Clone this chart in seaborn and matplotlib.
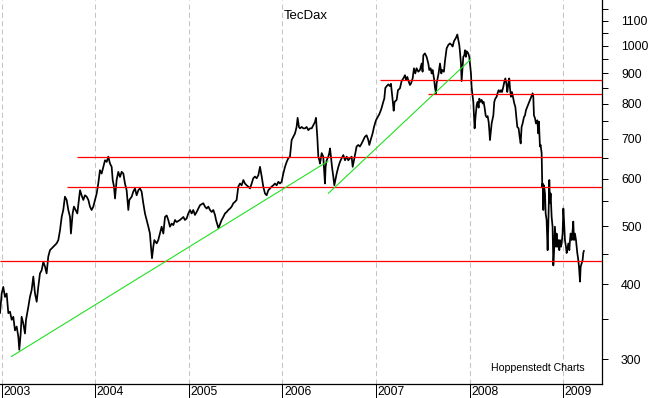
import matplotlib
matplotlib.use("Agg")
import matplotlib.pyplot as plt
import matplotlib.transforms as mtransforms
from matplotlib.ticker import FixedLocator, NullFormatter, FixedFormatter
import pandas as pd
import seaborn as sns

# ---- data (decimal years, index points) ----
dates = [
    2002.982, 2003.000, 2003.017, 2003.035, 2003.053, 2003.071, 2003.089, 2003.107, 2003.124, 2003.142,
    2003.160, 2003.178, 2003.188, 2003.203, 2003.213, 2003.231, 2003.249, 2003.260, 2003.285, 2003.302,
    2003.320, 2003.338, 2003.356, 2003.374, 2003.391, 2003.409, 2003.427, 2003.445, 2003.463, 2003.480,
    2003.498, 2003.516, 2003.552, 2003.587, 2003.605, 2003.623, 2003.641, 2003.658, 2003.676, 2003.694,
    2003.712, 2003.730, 2003.740, 2003.758, 2003.772, 2003.790, 2003.808, 2003.822, 2003.837, 2003.854,
    2003.872, 2003.890, 2003.908, 2003.926, 2003.943, 2003.961, 2003.979, 2003.997, 2004.015, 2004.032,
    2004.050, 2004.068, 2004.086, 2004.104, 2004.122, 2004.139, 2004.157, 2004.175, 2004.186, 2004.200,
    2004.211, 2004.228, 2004.246, 2004.264, 2004.282, 2004.300, 2004.317, 2004.335, 2004.353, 2004.364,
    2004.389, 2004.406, 2004.424, 2004.442, 2004.460, 2004.478, 2004.495, 2004.513, 2004.531, 2004.549,
    2004.567, 2004.584, 2004.595, 2004.606, 2004.620, 2004.631, 2004.656, 2004.673, 2004.691, 2004.709,
    2004.727, 2004.745, 2004.763, 2004.780, 2004.798, 2004.816, 2004.834, 2004.852, 2004.869, 2004.905,
    2004.941, 2004.958, 2004.976, 2004.994, 2005.012, 2005.030, 2005.047, 2005.065, 2005.083, 2005.101,
    2005.119, 2005.154, 2005.172, 2005.190, 2005.208, 2005.226, 2005.243, 2005.261, 2005.279, 2005.290,
    2005.316, 2005.350, 2005.368, 2005.386, 2005.404, 2005.421, 2005.439, 2005.457, 2005.475, 2005.493,
    2005.510, 2005.528, 2005.546, 2005.564, 2005.582, 2005.599, 2005.617, 2005.635, 2005.653, 2005.671,
    2005.688, 2005.706, 2005.724, 2005.742, 2005.760, 2005.778, 2005.795, 2005.813, 2005.831, 2005.849,
    2005.867, 2005.884, 2005.902, 2005.920, 2005.938, 2005.956, 2005.973, 2005.991, 2006.009, 2006.027,
    2006.045, 2006.062, 2006.080, 2006.087, 2006.098, 2006.116, 2006.134, 2006.151, 2006.162, 2006.176,
    2006.187, 2006.205, 2006.223, 2006.240, 2006.258, 2006.276, 2006.294, 2006.312, 2006.329, 2006.347,
    2006.358, 2006.365, 2006.372, 2006.383, 2006.394, 2006.401, 2006.419, 2006.436, 2006.454, 2006.461,
    2006.472, 2006.490, 2006.500, 2006.508, 2006.518, 2006.529, 2006.543, 2006.554, 2006.565, 2006.579,
    2006.597, 2006.614, 2006.632, 2006.650, 2006.668, 2006.686, 2006.703, 2006.721, 2006.739, 2006.750,
    2006.764, 2006.778, 2006.792, 2006.810, 2006.828, 2006.846, 2006.864, 2006.881, 2006.899, 2006.917,
    2006.928, 2006.942, 2006.963, 2006.978, 2006.999, 2007.017, 2007.035, 2007.049, 2007.060, 2007.077,
    2007.088, 2007.099, 2007.113, 2007.131, 2007.149, 2007.159, 2007.170, 2007.181, 2007.188, 2007.198,
    2007.220, 2007.234, 2007.255, 2007.273, 2007.291, 2007.309, 2007.320, 2007.334, 2007.344, 2007.362,
    2007.373, 2007.391, 2007.405, 2007.419, 2007.433, 2007.451, 2007.469, 2007.487, 2007.497, 2007.505,
    2007.522, 2007.540, 2007.558, 2007.569, 2007.583, 2007.594, 2007.604, 2007.619, 2007.629, 2007.640,
    2007.647, 2007.658, 2007.668, 2007.683, 2007.697, 2007.707, 2007.725, 2007.736, 2007.747, 2007.754,
    2007.772, 2007.789, 2007.807, 2007.818, 2007.832, 2007.843, 2007.854, 2007.868, 2007.878, 2007.889,
    2007.896, 2007.907, 2007.914, 2007.925, 2007.932, 2007.943, 2007.950, 2007.960, 2007.968, 2007.985,
    2007.996, 2008.003, 2008.014, 2008.021, 2008.028, 2008.039, 2008.046, 2008.053, 2008.064, 2008.075,
    2008.085, 2008.096, 2008.103, 2008.117, 2008.128, 2008.139, 2008.149, 2008.160, 2008.171, 2008.181,
    2008.192, 2008.203, 2008.210, 2008.217, 2008.224, 2008.235, 2008.253, 2008.263, 2008.274, 2008.288,
    2008.299, 2008.310, 2008.324, 2008.334, 2008.345, 2008.359, 2008.370, 2008.381, 2008.395, 2008.402,
    2008.416, 2008.423, 2008.431, 2008.441, 2008.452, 2008.466, 2008.477, 2008.488, 2008.498, 2008.509,
    2008.523, 2008.534, 2008.545, 2008.555, 2008.566, 2008.580, 2008.591, 2008.602, 2008.616, 2008.630,
    2008.644, 2008.658, 2008.673, 2008.680, 2008.687, 2008.698, 2008.708, 2008.723, 2008.733, 2008.740,
    2008.751, 2008.758, 2008.769, 2008.776, 2008.780, 2008.787, 2008.794, 2008.805, 2008.812, 2008.822,
    2008.833, 2008.840, 2008.851, 2008.858, 2008.865, 2008.876, 2008.886, 2008.894, 2008.901, 2008.911,
    2008.922, 2008.929, 2008.936, 2008.947, 2008.958, 2008.965, 2008.976, 2008.983, 2008.993, 2009.001,
    2009.008, 2009.018, 2009.029, 2009.036, 2009.043, 2009.054, 2009.065, 2009.072, 2009.079, 2009.090,
    2009.100, 2009.107, 2009.115, 2009.125, 2009.136, 2009.150, 2009.161, 2009.168, 2009.179, 2009.186,
    2009.197, 2009.207, 2009.214, 2009.221,
]
tecdax = [
    358, 386, 396, 381, 386, 358, 360, 349, 353, 335,
    340, 327, 311, 331, 353, 344, 331, 349, 367, 381,
    391, 412, 386, 374, 396, 417, 422, 436, 428, 417,
    445, 456, 462, 468, 474, 492, 518, 532, 560, 553,
    532, 518, 486, 525, 539, 532, 525, 549, 574, 563,
    553, 563, 560, 553, 539, 532, 539, 553, 567, 589,
    620, 612, 628, 644, 640, 653, 636, 628, 597, 582,
    556, 597, 616, 604, 616, 612, 589, 574, 532, 553,
    560, 571, 578, 563, 574, 578, 571, 546, 525, 512,
    499, 486, 462, 442, 462, 474, 468, 474, 486, 499,
    486, 518, 521, 512, 499, 505, 502, 512, 508, 512,
    518, 512, 515, 525, 532, 525, 532, 522, 528, 535,
    542, 546, 539, 535, 539, 532, 528, 532, 522, 512,
    496, 512, 518, 525, 528, 532, 535, 539, 546, 549,
    553, 582, 589, 585, 597, 589, 585, 582, 578, 589,
    601, 605, 601, 608, 628, 605, 582, 567, 563, 574,
    578, 582, 585, 589, 585, 593, 589, 593, 612, 628,
    640, 649, 653, 670, 696, 705, 714, 732, 758, 732,
    728, 732, 728, 728, 732, 723, 728, 728, 737, 746,
    758, 732, 705, 653, 644, 636, 662, 653, 589, 628,
    644, 653, 662, 674, 653, 628, 605, 585, 597, 612,
    628, 640, 649, 657, 644, 653, 644, 649, 653, 628,
    644, 662, 679, 683, 679, 687, 696, 705, 709, 696,
    683, 696, 714, 732, 751, 760, 769, 779, 788, 806,
    816, 850, 856, 862, 856, 864, 833, 801, 779, 806,
    812, 843, 849, 873, 882, 893, 876, 887, 876, 860,
    865, 882, 917, 899, 917, 905, 911, 934, 905, 964,
    971, 958, 934, 911, 917, 899, 911, 882, 853, 833,
    865, 882, 899, 934, 899, 911, 905, 942, 971, 990,
    1003, 1009, 1003, 997, 1017, 1024, 1031, 1044, 1024, 1003,
    979, 934, 873, 924, 958, 964, 983, 958, 979, 971,
    958, 934, 899, 853, 833, 806, 765, 728, 765, 796,
    806, 788, 816, 806, 812, 801, 806, 788, 765, 760,
    763, 746, 723, 696, 714, 742, 765, 806, 816, 822,
    834, 843, 837, 843, 837, 853, 870, 882, 860, 837,
    870, 882, 849, 822, 837, 817, 801, 791, 761, 732,
    728, 705, 687, 732, 742, 760, 765, 781, 791, 801,
    811, 822, 833, 822, 765, 757, 742, 751, 714, 747,
    679, 683, 662, 582, 589, 532, 585, 567, 525, 512,
    456, 499, 597, 546, 567, 518, 499, 430, 451, 499,
    462, 486, 462, 474, 456, 474, 462, 468, 486, 535,
    512, 474, 462, 451, 456, 468, 456, 474, 486, 474,
    492, 509, 474, 486, 474, 451, 439, 428, 404, 428,
    434, 439, 451, 455,
]

years = [2003, 2004, 2005, 2006, 2007, 2008, 2009]
year_labels = ["2003", "2004", "2005", "2006", "2007", "2008", "2009"]
y_major = [300, 400, 500, 600, 700, 800, 900, 1000, 1100]
y_major_labels = ["300", "400", "500", "600", "700", "800", "900", "1000", "1100"]
y_minor = [350, 450, 550, 650, 750, 850, 950, 1050, 1150]
x_range = [2002.982, 2009.414]
y_range = [273, 1192]

# horizontal support / resistance levels and where they start
levels = [438, 581, 652, 876, 832]
level_starts = [2002.982, 2003.698, 2003.805, 2007.042, 2007.558]

# green trend lines
trend1_x = [2003.103, 2006.489]
trend1_y = [303, 642]
trend2_x = [2006.489, 2008.011]
trend2_y = [567, 949]

title = "TecDax"
source = "Hoppenstedt Charts"

# ---- drawing ----
sns.set_style("white")
plt.rcParams["font.family"] = ["Liberation Sans", "DejaVu Sans"]

df = pd.DataFrame({"date": dates, "value": tecdax})

fig = plt.figure(figsize=(6.5, 3.98), dpi=100)
ax = fig.add_axes([0.0, 14.3 / 398, 602 / 650, 383.7 / 398])

ax.set_yscale("log")
ax.set_xlim(*x_range)
ax.set_ylim(*y_range)

# year grid
ax.set_xticks(years)
ax.set_xticklabels(year_labels)
ax.xaxis.grid(True, color="#c4c4c4", linestyle=(0, (4.8, 3.2)), linewidth=0.75)
ax.yaxis.grid(False)
ax.set_axisbelow(True)

sns.lineplot(data=df, x="date", y="value", color="black", linewidth=1.25,
             estimator=None, sort=False, ax=ax, zorder=2)

ax.hlines(levels, level_starts, [x_range[1]] * len(levels), colors="#ff0000",
          linewidth=0.9, zorder=3)
ax.plot(trend1_x, trend1_y, color="#22e022", linewidth=0.8, zorder=4)
ax.plot(trend2_x, trend2_y, color="#22e022", linewidth=0.8, zorder=4)

ax.set_xlim(*x_range)
ax.set_ylim(*y_range)

# y axis on the right
ax.yaxis.tick_right()
ax.yaxis.set_major_locator(FixedLocator(y_major))
ax.yaxis.set_major_formatter(FixedFormatter(y_major_labels))
ax.yaxis.set_minor_locator(FixedLocator(y_minor))
ax.yaxis.set_minor_formatter(NullFormatter())
ax.tick_params(axis="y", which="both", direction="out", length=4.3, width=0.72,
               pad=9.4, labelsize=8.8, colors="black", right=True, left=False,
               labelright=True, labelleft=False)
ax.tick_params(axis="x", which="major", direction="out", length=10.3, width=0.72,
               pad=-8.6, labelsize=8.8, colors="black", bottom=True, top=False)
ax.tick_params(axis="x", which="minor", bottom=False)

offset = mtransforms.ScaledTranslation(1.6 / 100, 0, fig.dpi_scale_trans)
for lbl in ax.get_xticklabels():
    lbl.set_horizontalalignment("left")
    lbl.set_transform(lbl.get_transform() + offset)

for side in ["left", "top"]:
    ax.spines[side].set_visible(False)
for side in ["right", "bottom"]:
    ax.spines[side].set_visible(True)
    ax.spines[side].set_color("black")
    ax.spines[side].set_linewidth(0.9)

ax.set_xlabel("")
ax.set_ylabel("")

ax.text(306 / 602, 1 - 16 / 383.7, title, transform=ax.transAxes,
        ha="center", va="center", fontsize=9.5, color="black")
ax.text(585 / 602, 1 - 368.3 / 383.7, source, transform=ax.transAxes,
        ha="right", va="center", fontsize=7.6, color="black")

fig.savefig("out.png", dpi=100, facecolor="white")
